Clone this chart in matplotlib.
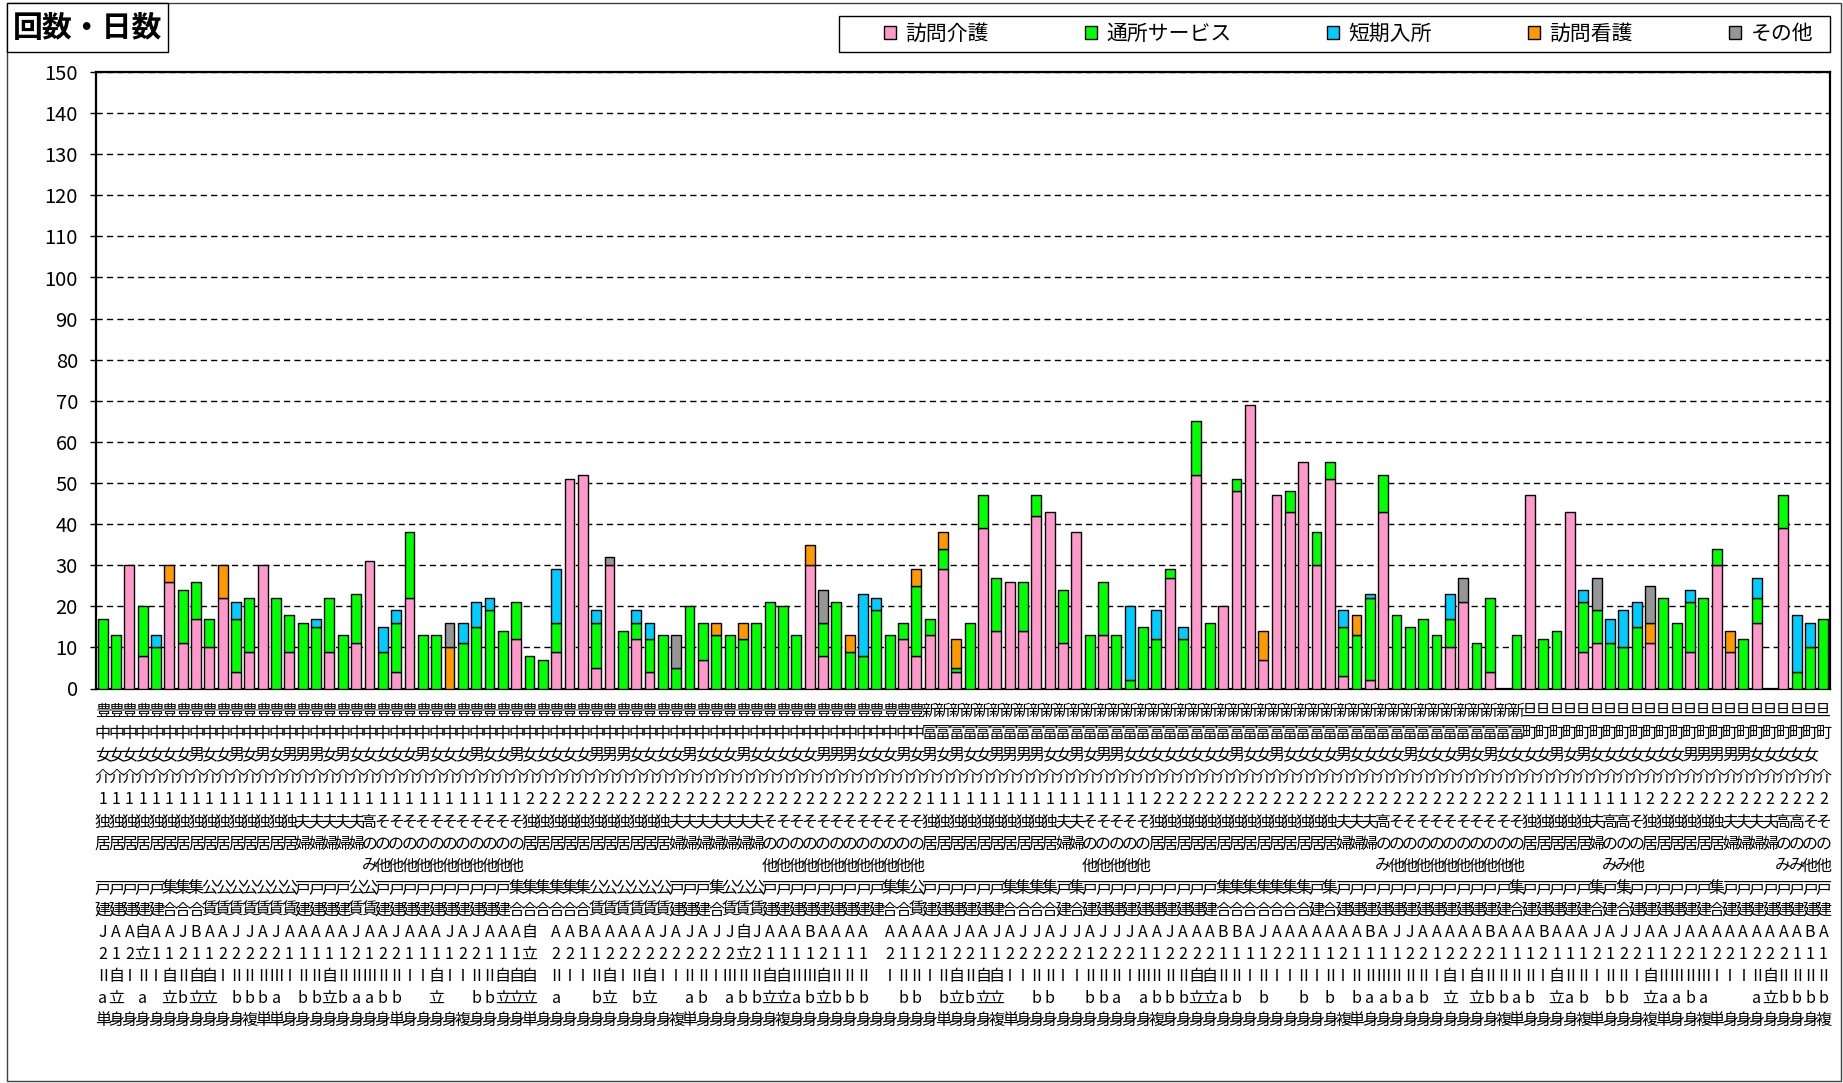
import numpy as np
import matplotlib
matplotlib.use("Agg")
import matplotlib.pyplot as plt
import matplotlib.patches as mpatches
import matplotlib.transforms as mtransforms

plt.rcParams['font.family'] = ['Noto Sans CJK JP', 'DejaVu Sans']

W, H = 1843, 1083

series_names = ['訪問介護', '通所サービス', '短期入所', '訪問看護', 'その他']
colors = ['#FF99CC', '#00FF00', '#00CCFF', '#FF9900', '#969696']

# values per case (130 cases)
homon_kaigo = [0, 0, 30, 8, 0, 26, 11, 17, 10, 22, 4, 9, 30, 0, 9, 0, 0, 9, 0, 11,
               31, 0, 4, 22, 0, 0, 0, 0, 0, 0, 0, 12, 0, 0, 9, 51, 52, 5, 30, 0,
               12, 4, 0, 0, 0, 7, 0, 0, 0, 0, 0, 0, 0, 30, 8, 0, 0, 0, 0, 0,
               12, 8, 13, 29, 4, 0, 39, 14, 26, 14, 42, 43, 11, 38, 0, 13, 0, 0, 0, 0,
               27, 0, 52, 0, 20, 48, 69, 7, 47, 43, 55, 30, 51, 3, 0, 2, 43, 0, 0, 0,
               0, 10, 21, 0, 4, 0, 0, 47, 0, 0, 43, 9, 11, 0, 0, 0, 11, 0, 0, 9,
               0, 30, 9, 0, 16, 0, 39, 0, 0, 0]
tsusho = [17, 13, 0, 12, 10, 0, 13, 9, 7, 0, 13, 13, 0, 22, 9, 16, 15, 13, 13, 12,
          0, 9, 12, 16, 13, 13, 0, 11, 15, 19, 14, 9, 8, 7, 7, 0, 0, 11, 0, 14,
          4, 8, 13, 5, 20, 9, 13, 13, 12, 16, 21, 20, 13, 0, 8, 21, 9, 8, 19, 13,
          4, 17, 4, 5, 1, 16, 8, 13, 0, 12, 5, 0, 13, 0, 13, 13, 13, 2, 15, 12,
          2, 12, 13, 16, 0, 3, 0, 0, 0, 5, 0, 8, 4, 12, 13, 20, 9, 18, 15, 17,
          13, 7, 0, 11, 18, 0, 13, 0, 12, 14, 0, 12, 8, 11, 10, 15, 0, 22, 16, 12,
          22, 4, 0, 12, 6, 0, 8, 4, 10, 17]
tanki = [0, 0, 0, 0, 3, 0, 0, 0, 0, 0, 4, 0, 0, 0, 0, 0, 2, 0, 0, 0,
         0, 6, 3, 0, 0, 0, 0, 5, 6, 3, 0, 0, 0, 0, 13, 0, 0, 3, 0, 0,
         3, 4, 0, 0, 0, 0, 0, 0, 0, 0, 0, 0, 0, 0, 0, 0, 0, 15, 3, 0,
         0, 0, 0, 0, 0, 0, 0, 0, 0, 0, 0, 0, 0, 0, 0, 0, 0, 18, 0, 7,
         0, 3, 0, 0, 0, 0, 0, 0, 0, 0, 0, 0, 0, 4, 0, 1, 0, 0, 0, 0,
         0, 6, 0, 0, 0, 0, 0, 0, 0, 0, 0, 3, 0, 6, 9, 6, 0, 0, 0, 3,
         0, 0, 0, 0, 5, 0, 0, 14, 6, 0]
homon_kango = [0, 0, 0, 0, 0, 4, 0, 0, 0, 8, 0, 0, 0, 0, 0, 0, 0, 0, 0, 0,
               0, 0, 0, 0, 0, 0, 10, 0, 0, 0, 0, 0, 0, 0, 0, 0, 0, 0, 0, 0,
               0, 0, 0, 0, 0, 0, 3, 0, 4, 0, 0, 0, 0, 5, 0, 0, 4, 0, 0, 0,
               0, 4, 0, 4, 7, 0, 0, 0, 0, 0, 0, 0, 0, 0, 0, 0, 0, 0, 0, 0,
               0, 0, 0, 0, 0, 0, 0, 7, 0, 0, 0, 0, 0, 0, 5, 0, 0, 0, 0, 0,
               0, 0, 0, 0, 0, 0, 0, 0, 0, 0, 0, 0, 0, 0, 0, 0, 5, 0, 0, 0,
               0, 0, 5, 0, 0, 0, 0, 0, 0, 0]
sonota = [0, 0, 0, 0, 0, 0, 0, 0, 0, 0, 0, 0, 0, 0, 0, 0, 0, 0, 0, 0,
          0, 0, 0, 0, 0, 0, 6, 0, 0, 0, 0, 0, 0, 0, 0, 0, 0, 0, 2, 0,
          0, 0, 0, 8, 0, 0, 0, 0, 0, 0, 0, 0, 0, 0, 8, 0, 0, 0, 0, 0,
          0, 0, 0, 0, 0, 0, 0, 0, 0, 0, 0, 0, 0, 0, 0, 0, 0, 0, 0, 0,
          0, 0, 0, 0, 0, 0, 0, 0, 0, 0, 0, 0, 0, 0, 0, 0, 0, 0, 0, 0,
          0, 0, 6, 0, 0, 0, 0, 0, 0, 0, 0, 0, 8, 0, 0, 0, 9, 0, 0, 0,
          0, 0, 0, 0, 0, 0, 0, 0, 0, 0]

# category label rows: one character per case, rows stacked under the axis
area1 = '豊' * 62 + '新' * 45 + '旦' * 23
area2 = '中' * 62 + '富' * 45 + '町' * 23
sex = ('女女女女女女女男女女男女男女男男男女男'
       '女女女女女男女女女男女女男女女女女女男男男女女女女'
       '男女女女男女女女女女男男男女女女男女男'
       '女男女'
       '女男男男男女女男女男男女女女女女女女女'
       '男女女男女女女女男女女女女男女女女男女男女女女女男'
       '女男女女女女女女女男男男男男女女女女女')
kaigo = '介' * 130
level = '1' * 32 + '2' * 30 + '1' * 17 + '2' * 28 + '1' * 9 + '2' * 14
house1 = ('独' * 15 + '夫' * 5 + '高' + 'そ' * 11 + '独' * 11 + '夫' * 7 + 'そ' * 12
          + '独' * 10 + '夫' * 2 + 'そ' * 5 + '独' * 14 + '夫' * 3 + '高' + 'そ' * 10
          + '独' * 5 + '夫' + '高' * 2 + 'そ' + '独' * 6 + '夫' * 4 + '高' * 2 + 'そ' * 2)
house2 = house1.translate(str.maketrans({'独': '居', '夫': '婦', '高': 'の', 'そ': 'の'}))
house3 = house1.translate(str.maketrans({'独': ' ', '夫': ' ', '高': 'み', 'そ': '他'}))
home1 = ('戸' * 5 + '集' * 3 + '公' * 7 + '戸' * 4 + '公' * 2 + '戸' * 10 + '集' * 6
         + '公' * 6 + '戸' * 3 + '集' + '公' * 3 + '戸' * 9 + '集' * 2 + '公'
         + '戸' * 6 + '集' * 4 + '戸' + '集' + '戸' * 10 + '集' * 7 + '戸' + '集'
         + '戸' * 13 + '集' + '戸' * 5 + '集' + '戸' + '集' + '戸' * 6 + '集' + '戸' * 8)
home2 = home1.translate(str.maketrans({'戸': '建', '集': '合', '公': '賃'}))
adl1 = ('JAA自AAJBAAJJAJAAAA' 'AJAAJAAAJAJAAA' '自 ' 'AABAAAAAJAJAJJ'
        '自JAAABAAAA AAAAA' 'JAAJ' 'AJJAJJAJJJAAJAAABBA'
        'JAAAAAAABAJJAAAAABAAABAA' 'AJAJJAAJAAAAAAAAABA')
adl2 = ('212立11211222221111' '12122111122111' '立 ' '22112222222222'
        '立211112111 21121' '2211' '2222221222112222111'
        '122111211112212222111211' '1212211221221222111')
nin1 = ('Ⅱ自ⅠⅡⅠ自Ⅱ自自ⅠⅡⅡⅡⅢⅠⅡⅡ自' 'ⅡⅡⅢⅡⅡⅠⅠ自ⅠⅠⅡⅡ自自自' ' '
        'ⅡⅠⅠⅡ自ⅠⅡ自ⅠⅠ' 'ⅡⅡⅠⅢⅡⅡ自自ⅡⅢ自ⅡⅡⅡ ⅠⅡⅡⅠⅡ' '自Ⅱ自自'
        'ⅠⅠⅡⅡⅠⅠⅡⅡⅡⅠⅢⅡⅡⅡ自自ⅡⅡ' 'ⅠⅡⅠⅠⅡⅠⅡⅠⅡⅡⅢⅡⅡⅡⅠ自Ⅰ自ⅡⅡⅡⅡⅠ自Ⅱ'
        'ⅡⅠⅡⅡⅠ自ⅡⅢⅡⅢⅠⅠⅠⅡ自ⅡⅡⅡⅡ')
nin2 = ('a立 a 立b立立 bbba bb立' 'baabb  立  bb立立立' ' '
        'a  b立 b立  ' 'ab abb立立ab立bbb  bb b' '立b立立'
        '  bb  bba abbb立立ab' ' b  b b baabab 立 立bbab 立a'
        'b bb 立aaba   a立bbbb')
family = ('単身身身身身身身身身身複単単身身身身身身身身単身身身身複身身'
          '身身単身身身身身身身身身身複単身身身身身身複身身身身身身身身'
          '身身身単身身身複単身身身身身身身身身身複身身身身身身身身身身'
          '身身身複単身身身身身身身身身身複単身身身身複単身身身複単身身'
          '複単身身身身身身身複')

label_rows = [area1, area2, sex, kaigo, level, house1, house2, house3,
              home1, home2, adl1, adl2, nin1, nin2, family]
n = len(homon_kaigo)
label_rows = [r.ljust(n)[:n] for r in label_rows]

fig = plt.figure(figsize=(W / 100, H / 100), dpi=100)

# outer chart frame
fig.add_artist(mpatches.Rectangle((7 / W, 1 - 1081 / H), (1841 - 7) / W, (1081 - 3) / H,
                                  transform=fig.transFigure, fill=False,
                                  edgecolor='#404040', linewidth=1.0))

ax = fig.add_axes([96 / W, 1 - 688.5 / H, (1830 - 96) / W, (688.5 - 72) / H])

x = np.arange(n)
series = [homon_kaigo, tsusho, tanki, homon_kango, sonota]
bottom = np.zeros(n)
for vals, col in zip(series, colors):
    vals = np.array(vals, dtype=float)
    m = vals > 0
    ax.bar(x[m], vals[m], 0.74, bottom=bottom[m], color=col,
           edgecolor='black', linewidth=1.0, zorder=3)
    bottom += vals

ax.set_xlim(-0.5, n - 0.5)
ax.set_ylim(0, 150)
ax.set_yticks(np.arange(0, 151, 10))
ax.tick_params(axis='y', labelsize=14.5, length=4, width=1, pad=9, direction='out')
ax.set_xticks([])
ax.yaxis.grid(True, color='black', linewidth=1.0, linestyle=(0, (4.5, 3)), zorder=0)
for s in ax.spines.values():
    s.set_linewidth(1.6)
    s.set_color('black')

# stacked category labels under each bar
trans = mtransforms.blended_transform_factory(ax.transData, fig.transFigure)
for r, row in enumerate(label_rows):
    yb = 1 - (716 + 22.1 * r) / H
    for i, ch in enumerate(row):
        if ch.strip():
            ax.text(i, yb, ch, transform=trans, ha='center', va='baseline',
                    fontsize=11.5, clip_on=False)

# title box
fig.add_artist(mpatches.Rectangle((7 / W, 1 - 52 / H), 161 / W, 49 / H,
                                  transform=fig.transFigure, fill=True, facecolor='white',
                                  edgecolor='black', linewidth=1.0))
fig.text(13 / W, 1 - 28 / H, '回数・日数', fontsize=21.5, fontweight='bold',
         ha='left', va='center')

# legend
fig.add_artist(mpatches.Rectangle((839 / W, 1 - 52 / H), (1830 - 839) / W, 35.5 / H,
                                  transform=fig.transFigure, fill=False,
                                  edgecolor='black', linewidth=1.0))
handles = [mpatches.Patch(facecolor=c, edgecolor='black', linewidth=1.0) for c in colors]
fig.legend(handles, series_names, ncol=5, loc='center left',
           bbox_to_anchor=(884 / W, 1 - 34 / H), frameon=False, fontsize=15,
           handlelength=0.58, handleheight=0.58, handletextpad=0.45,
           columnspacing=4.6, borderpad=0, borderaxespad=0)

fig.savefig('out.png', dpi=100)
